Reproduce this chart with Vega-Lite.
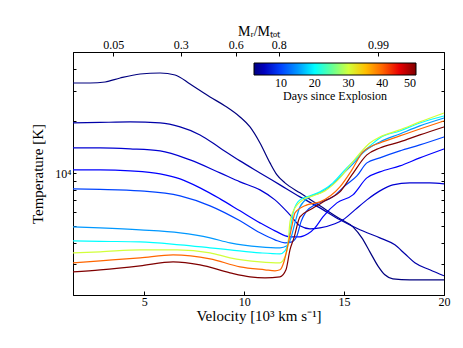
{
"$schema": "https://vega.github.io/schema/vega-lite/v6.json",
"width": 371, "height": 243,
"autosize": "none",
"padding": {"left": 73, "top": 52, "right": 19, "bottom": 53},
"config": {
  "view": {"stroke": "black", "strokeWidth": 1},
  "font": "Liberation Serif",
  "axis": {"grid": false, "labelFont": "Liberation Serif", "titleFont": "Liberation Serif", "labelFontSize": 12, "titleFontSize": 15, "titleFontWeight": "normal", "labelColor": "black", "titleColor": "black", "domainColor": "black", "tickColor": "black"}
},
"data": {"values": [
{"day":2,"v":1.43,"T":33170},{"day":2,"v":2.29,"T":33170},{"day":2,"v":3.04,"T":33610},{"day":2,"v":3.79,"T":35440},{"day":2,"v":4.79,"T":37360},{"day":2,"v":5.79,"T":37860},{"day":2,"v":6.54,"T":36870},{"day":2,"v":7.29,"T":32730},{"day":2,"v":8.29,"T":27560},{"day":2,"v":9.04,"T":24470},{"day":2,"v":9.79,"T":21150},{"day":2,"v":10.29,"T":18530},{"day":2,"v":10.79,"T":14990},{"day":2,"v":11.29,"T":11510},{"day":2,"v":11.64,"T":9817},{"day":2,"v":12.04,"T":8832},{"day":2,"v":12.79,"T":7737},{"day":2,"v":13.79,"T":6514},{"day":2,"v":14.79,"T":5484},{"day":2,"v":15.44,"T":4933},{"day":2,"v":15.89,"T":4265},{"day":2,"v":16.29,"T":3543},{"day":2,"v":16.69,"T":2944},{"day":2,"v":17.04,"T":2614},{"day":2,"v":17.44,"T":2479},{"day":2,"v":18.29,"T":2446},{"day":2,"v":20,"T":2446},
{"day":4,"v":1.43,"T":19530},{"day":4,"v":2.79,"T":19670},{"day":4,"v":4.29,"T":19800},{"day":4,"v":5.79,"T":19530},{"day":4,"v":6.79,"T":18530},{"day":4,"v":7.79,"T":16670},{"day":4,"v":8.79,"T":14030},{"day":4,"v":9.79,"T":11820},{"day":4,"v":10.79,"T":10080},{"day":4,"v":11.79,"T":8602},{"day":4,"v":12.79,"T":7339},{"day":4,"v":13.79,"T":6344},{"day":4,"v":14.79,"T":5413},{"day":4,"v":15.79,"T":4742},{"day":4,"v":16.79,"T":4265},{"day":4,"v":17.54,"T":3887},{"day":4,"v":18.04,"T":3451},{"day":4,"v":18.54,"T":3064},{"day":4,"v":19.29,"T":2793},{"day":4,"v":20,"T":2580},
{"day":6,"v":1.43,"T":14030},{"day":6,"v":2.79,"T":14030},{"day":6,"v":4.29,"T":13850},{"day":6,"v":5.79,"T":13490},{"day":6,"v":7.29,"T":11970},{"day":6,"v":8.79,"T":10080},{"day":6,"v":9.79,"T":8949},{"day":6,"v":10.79,"T":8051},{"day":6,"v":11.54,"T":7053},{"day":6,"v":12.29,"T":5782},{"day":6,"v":12.79,"T":4999},{"day":6,"v":13.29,"T":4804},{"day":6,"v":13.79,"T":4868},{"day":6,"v":14.54,"T":5136},{"day":6,"v":14.94,"T":5413},{"day":6,"v":15.54,"T":6178},{"day":6,"v":16.14,"T":7053},{"day":6,"v":16.79,"T":7943},{"day":6,"v":17.44,"T":8602},{"day":6,"v":18.29,"T":8832},{"day":6,"v":19.29,"T":8832},{"day":6,"v":20,"T":8716},
{"day":8,"v":1.43,"T":10490},{"day":8,"v":2.79,"T":10490},{"day":8,"v":4.29,"T":10350},{"day":8,"v":5.79,"T":9947},{"day":8,"v":6.79,"T":9310},{"day":8,"v":7.79,"T":8267},{"day":8,"v":8.79,"T":7147},{"day":8,"v":9.79,"T":6097},{"day":8,"v":10.79,"T":5200},{"day":8,"v":11.54,"T":4679},{"day":8,"v":12.29,"T":4322},{"day":8,"v":12.79,"T":4322},{"day":8,"v":13.19,"T":4497},{"day":8,"v":13.54,"T":4868},{"day":8,"v":13.94,"T":5630},{"day":8,"v":14.64,"T":6776},{"day":8,"v":15.44,"T":7535},{"day":8,"v":16.14,"T":9434},{"day":8,"v":16.79,"T":10210},{"day":8,"v":17.79,"T":11060},{"day":8,"v":18.79,"T":12300},{"day":8,"v":20,"T":13850},
{"day":10,"v":1.43,"T":8157},{"day":10,"v":2.79,"T":8103},{"day":10,"v":4.79,"T":7943},{"day":10,"v":6.79,"T":7436},{"day":10,"v":8.29,"T":6514},{"day":10,"v":9.79,"T":5341},{"day":10,"v":10.79,"T":4557},{"day":10,"v":11.54,"T":4153},{"day":10,"v":12.04,"T":3991},{"day":10,"v":12.39,"T":4045},{"day":10,"v":12.64,"T":4380},{"day":10,"v":12.84,"T":5270},{"day":10,"v":13.09,"T":6017},{"day":10,"v":13.54,"T":6600},{"day":10,"v":14.44,"T":7339},{"day":10,"v":15.04,"T":8489},{"day":10,"v":15.64,"T":9687},{"day":10,"v":16.14,"T":11510},{"day":10,"v":16.79,"T":12300},{"day":10,"v":17.79,"T":13490},{"day":10,"v":18.79,"T":14600},{"day":10,"v":20,"T":16230},
{"day":15,"v":1.43,"T":4933},{"day":15,"v":2.79,"T":4868},{"day":15,"v":4.79,"T":4742},{"day":15,"v":6.79,"T":4557},{"day":15,"v":8.29,"T":4265},{"day":15,"v":9.29,"T":3991},{"day":15,"v":10.79,"T":3786},{"day":15,"v":11.79,"T":3737},{"day":15,"v":12.14,"T":3836},{"day":15,"v":12.34,"T":4265},{"day":15,"v":12.54,"T":5200},{"day":15,"v":12.79,"T":6428},{"day":15,"v":13.29,"T":7339},{"day":15,"v":13.79,"T":7737},{"day":15,"v":14.44,"T":8716},{"day":15,"v":15.04,"T":10210},{"day":15,"v":15.54,"T":11660},{"day":15,"v":15.94,"T":13130},{"day":15,"v":16.79,"T":15190},{"day":15,"v":17.79,"T":16890},{"day":15,"v":18.79,"T":18780},{"day":15,"v":20,"T":20870},
{"day":20,"v":1.43,"T":4099},{"day":20,"v":2.79,"T":4072},{"day":20,"v":4.79,"T":4045},{"day":20,"v":6.79,"T":3887},{"day":20,"v":8.29,"T":3737},{"day":20,"v":9.29,"T":3638},{"day":20,"v":10.79,"T":3497},{"day":20,"v":11.79,"T":3451},{"day":20,"v":12.04,"T":3591},{"day":20,"v":12.19,"T":3991},{"day":20,"v":12.34,"T":5064},{"day":20,"v":12.49,"T":6178},{"day":20,"v":12.79,"T":7053},{"day":20,"v":13.29,"T":7436},{"day":20,"v":13.79,"T":7839},{"day":20,"v":14.44,"T":8832},{"day":20,"v":15.04,"T":10490},{"day":20,"v":15.54,"T":11970},{"day":20,"v":15.94,"T":13310},{"day":20,"v":16.29,"T":14410},{"day":20,"v":16.79,"T":16020},{"day":20,"v":17.79,"T":17570},{"day":20,"v":18.79,"T":19530},{"day":20,"v":20,"T":21430},
{"day":30,"v":1.43,"T":3497},{"day":30,"v":2.79,"T":3543},{"day":30,"v":4.79,"T":3638},{"day":30,"v":6.64,"T":3638},{"day":30,"v":8.29,"T":3497},{"day":30,"v":9.29,"T":3273},{"day":30,"v":10.79,"T":3105},{"day":30,"v":11.79,"T":3064},{"day":30,"v":12.04,"T":3317},{"day":30,"v":12.19,"T":3887},{"day":30,"v":12.29,"T":5270},{"day":30,"v":12.44,"T":6017},{"day":30,"v":12.94,"T":7053},{"day":30,"v":13.44,"T":7436},{"day":30,"v":14.04,"T":7943},{"day":30,"v":14.79,"T":9434},{"day":30,"v":15.39,"T":11510},{"day":30,"v":15.94,"T":13670},{"day":30,"v":16.29,"T":14990},{"day":30,"v":16.79,"T":16230},{"day":30,"v":17.79,"T":17810},{"day":30,"v":18.79,"T":19800},{"day":30,"v":20,"T":22300},
{"day":40,"v":1.43,"T":3064},{"day":40,"v":2.79,"T":3146},{"day":40,"v":4.79,"T":3273},{"day":40,"v":6.44,"T":3405},{"day":40,"v":8.29,"T":3230},{"day":40,"v":9.79,"T":2905},{"day":40,"v":11.04,"T":2793},{"day":40,"v":11.54,"T":2756},{"day":40,"v":11.79,"T":2793},{"day":40,"v":11.99,"T":3105},{"day":40,"v":12.19,"T":3887},{"day":40,"v":12.39,"T":4999},{"day":40,"v":12.54,"T":5938},{"day":40,"v":13.14,"T":6600},{"day":40,"v":13.79,"T":6866},{"day":40,"v":14.79,"T":8377},{"day":40,"v":15.39,"T":10490},{"day":40,"v":15.94,"T":13310},{"day":40,"v":16.29,"T":14220},{"day":40,"v":16.79,"T":14990},{"day":40,"v":17.79,"T":16450},{"day":40,"v":18.79,"T":18040},{"day":40,"v":20,"T":20060},
{"day":50,"v":1.43,"T":2720},{"day":50,"v":2.79,"T":2793},{"day":50,"v":4.79,"T":2944},{"day":50,"v":6.44,"T":3105},{"day":50,"v":7.79,"T":2983},{"day":50,"v":9.29,"T":2684},{"day":50,"v":10.29,"T":2545},{"day":50,"v":11.04,"T":2512},{"day":50,"v":11.79,"T":2545},{"day":50,"v":12.09,"T":2793},{"day":50,"v":12.29,"T":3638},{"day":50,"v":12.49,"T":4265},{"day":50,"v":12.79,"T":5630},{"day":50,"v":13.29,"T":6178},{"day":50,"v":14.14,"T":7053},{"day":50,"v":14.79,"T":7839},{"day":50,"v":15.39,"T":9817},{"day":50,"v":16.14,"T":12790},{"day":50,"v":16.79,"T":14030},{"day":50,"v":17.79,"T":15190},{"day":50,"v":18.79,"T":16670},{"day":50,"v":20,"T":18530}
]},
"layer": [
  {
    "mark": {"type": "line", "interpolate": "monotone", "strokeWidth": 1.2},
    "encoding": {
      "x": {"field": "v", "type": "quantitative", "scale": {"domain": [1.43, 20], "nice": false, "zero": false},
            "axis": {"orient": "bottom", "values": [5, 10, 15, 20], "title": "Velocity [10³ km s⁻¹]", "tickSize": -4, "labelPadding": 5, "titleY": 13, "labelFlush": false}},
      "y": {"field": "T", "type": "quantitative", "scale": {"type": "log", "domain": [2000, 50000], "nice": false},
            "axis": {"orient": "left", "values": [3000, 4000, 5000, 6000, 7000, 8000, 9000, 10000, 20000, 30000, 40000], "labelExpr": "datum.value == 10000 ? '10⁴' : ''", "tickSize": -3, "labelPadding": 5, "title": "Temperature [K]", "titleX": -36, "titleBaseline": "middle"}},
      "color": {"field": "day", "type": "quantitative",
                "scale": {"domain": [2, 8, 14, 20, 26, 32, 38, 44, 50], "range": ["#00007f", "#0000ff", "#007fff", "#00ffff", "#7fff7f", "#ffff00", "#ff7f00", "#ff0000", "#7f0000"]},
                "legend": {"orient": "none", "legendX": 181, "legendY": 11, "direction": "horizontal", "gradientLength": 162, "gradientThickness": 12, "values": [10, 20, 30, 40, 50], "title": "Days since Explosion", "titleOrient": "bottom", "titleAnchor": "middle", "titleFontWeight": "normal", "titleFontSize": 12, "titleFont": "Liberation Serif", "labelFont": "Liberation Serif", "labelFontSize": 12, "labelAlign": "center", "labelOffset": 3, "gradientStrokeColor": "black", "gradientStrokeWidth": 1, "titlePadding": 2, "labelColor": "black", "titleColor": "black"}},
      "detail": {"field": "day", "type": "quantitative"}
    }
  },
  {
    "mark": {"type": "line", "interpolate": "monotone", "opacity": 0},
    "encoding": {
      "x": {"field": "v", "type": "quantitative",
            "axis": {"orient": "top", "values": [3.45, 6.82, 9.58, 11.73, 16.7], "labelExpr": "datum.value == 3.45 ? '0.05' : datum.value == 6.82 ? '0.3' : datum.value == 9.58 ? '0.6' : datum.value == 11.73 ? '0.8' : '0.99'", "tickSize": -4, "labelPadding": 5, "title": "Mᵣ/Mₜₒₜ", "titleY": -21, "titleBaseline": "middle", "titleFontSize": 14}},
      "y": {"field": "T", "type": "quantitative",
            "axis": {"orient": "right", "values": [3000, 4000, 5000, 6000, 7000, 8000, 9000, 10000, 20000, 30000, 40000], "labels": false, "tickSize": -3, "title": null}},
      "detail": {"field": "day", "type": "quantitative"}
    }
  }
],
"resolve": {"axis": {"x": "independent", "y": "independent"}}
}
